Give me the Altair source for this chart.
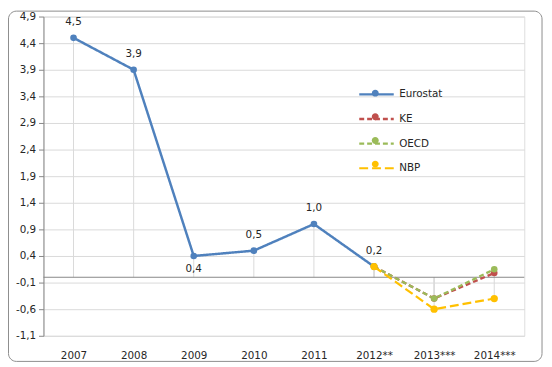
import altair as alt
import pandas as pd

years = ["2007", "2008", "2009", "2010", "2011", "2012**", "2013***", "2014***"]
series_names = ["Eurostat", "KE", "OECD", "NBP"]
eurostat = [4.5, 3.9, 0.4, 0.5, 1.0, 0.2]
ke = [0.2, -0.4, 0.08]
oecd = [0.2, -0.4, 0.15]
nbp = [0.2, -0.6, -0.4]
y_ticks = [-1.1, -0.6, -0.1, 0.4, 0.9, 1.4, 1.9, 2.4, 2.9, 3.4, 3.9, 4.4, 4.9]
colors = ["#4F81BD", "#C0504D", "#9BBB59", "#FFC000"]

rows = []
for y, v in zip(years[:6], eurostat):
    rows.append({"year": y, "series": "Eurostat", "value": v})
for name, vals in (("KE", ke), ("OECD", oecd), ("NBP", nbp)):
    for y, v in zip(years[5:], vals):
        rows.append({"year": y, "series": name, "value": v})
df = pd.DataFrame(rows)
# separate key for the marker legend (kept distinct so the two legends are not merged)
df["seriesB"] = df["series"] + " "
series_b = [n + " " for n in series_names]

FONT = "DejaVu Sans"
FS = 10.5
TXT = "#262626"

x_enc = alt.X("year:N", sort=years,
              scale=alt.Scale(type="point", domain=years, padding=0.5),
              axis=alt.Axis(title=None, domain=False, ticks=False, grid=False,
                            labelPadding=15, labelAngle=0, labelFontSize=FS,
                            labelColor=TXT, labelFont=FONT, labelOverlap=False))
y_enc = alt.Y("value:Q",
              scale=alt.Scale(domain=[-1.1, 4.9], nice=False, zero=False),
              axis=alt.Axis(title=None, values=y_ticks, tickCount=len(y_ticks) + 2,
                            format=".1f", grid=True,
                            gridColor="#D9D9D9", domainColor="#868686",
                            tickColor="#868686", tickSize=5, labelPadding=3,
                            labelFontSize=FS, labelColor=TXT, labelFont=FONT,
                            labelOverlap=False))

SYM = 100
LX, LY = 331.5, 72.5
line_legend = alt.Legend(title=None, orient="none", legendX=LX, legendY=LY,
                         symbolType="M-3.5,0L3.5,0", symbolSize=SYM,
                         labelOffset=16.5, rowPadding=13, padding=0,
                         labelFontSize=FS, labelFont=FONT, labelColor=TXT)
point_legend = alt.Legend(title=None, orient="none", legendX=LX, legendY=LY,
                          symbolType="M-0.7,0A0.7,0.7,0,1,1,0.7,0A0.7,0.7,0,1,1,-0.7,0Z",
                          symbolSize=SYM, symbolStrokeWidth=0,
                          labelOffset=16.5, rowPadding=13, padding=0,
                          labelFontSize=FS, labelFont=FONT, labelExpr="' '")

color_enc = alt.Color("series:N", scale=alt.Scale(domain=series_names, range=colors),
                      legend=line_legend)
dash_enc = alt.StrokeDash("series:N",
                          scale=alt.Scale(domain=series_names,
                                          range=[[1, 0], [5, 3], [5, 3], [9, 4]]),
                          legend=line_legend)
width_enc = alt.StrokeWidth("series:N",
                            scale=alt.Scale(domain=series_names, range=[2.5, 2.2, 2.2, 3.5]),
                            legend=line_legend)
fill_enc = alt.Fill("seriesB:N", scale=alt.Scale(domain=series_b, range=colors),
                    legend=point_legend)

base = alt.Chart(df)

border = alt.Chart(pd.DataFrame({"a": [0]})).mark_rect(
    fill="transparent", stroke="#8C8C8C", strokeWidth=1, cornerRadius=8
).encode(x=alt.value(-35.5), x2=alt.value(506), y=alt.value(-5.5), y2=alt.value(350))

drops = base.mark_rule(color="#D9D9D9", strokeWidth=1).encode(
    x=x_enc, y=y_enc, y2=alt.datum(0))

zero = alt.Chart(pd.DataFrame({"a": [0]})).mark_rule(color="#868686", strokeWidth=1).encode(
    y=alt.datum(0))

lines = []
points = []
for s in series_names:
    lines.append(base.transform_filter(alt.datum.series == s).mark_line().encode(
        x=x_enc, y=y_enc, color=color_enc, strokeDash=dash_enc, strokeWidth=width_enc))
for s in series_names:
    points.append(base.transform_filter(alt.datum.series == s).mark_point(
        filled=True, size=45 if s != "NBP" else 55, opacity=1, strokeWidth=0).encode(
        x=x_enc, y=y_enc, fill=fill_enc))

labels_up = base.transform_filter(
    (alt.datum.series == "Eurostat") & (alt.datum.year != "2009")
).mark_text(dy=-16, fontSize=FS, font=FONT, color=TXT).encode(
    x=x_enc, y=y_enc, text=alt.Text("value:Q", format=".1f"))
labels_down = base.transform_filter(
    (alt.datum.series == "Eurostat") & (alt.datum.year == "2009")
).mark_text(dy=13, fontSize=FS, font=FONT, color=TXT).encode(
    x=x_enc, y=y_enc, text=alt.Text("value:Q", format=".1f"))

chart = alt.layer(border, drops, zero, *lines, *points, labels_up, labels_down).properties(
    width=488, height=324,
    autosize=alt.AutoSizeParams(type="none"),
    padding={"left": 36, "top": 6, "right": 20, "bottom": 29},
).configure_view(stroke=None).configure(
    font=FONT,
    locale={"number": {"decimal": ",", "thousands": " ", "grouping": [3],
                       "currency": ["", ""], "minus": "-"}},
)

chart.save("out.html", embed_options={"renderer": "svg", "actions": False})
